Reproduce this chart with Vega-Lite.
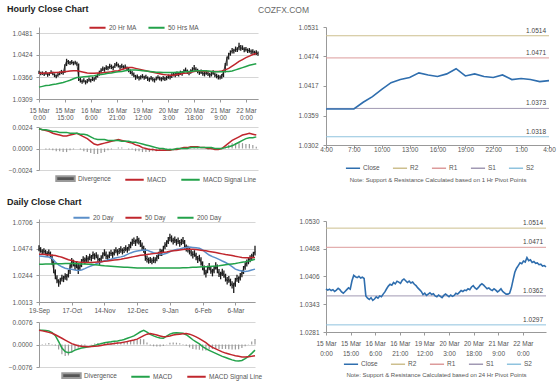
{
"$schema":"https://vega.github.io/schema/vega-lite/v6.json",
"background":"white",
"padding":{"left":7,"top":5,"right":4,"bottom":2},
"config":{"font":"Liberation Sans","view":{"stroke":null},
"axis":{"labelFont":"Liberation Sans","labelFontSize":6.5,"labelColor":"#555","domainColor":"#999","tickColor":"#999","tickSize":3,"labelPadding":4,"gridColor":"#c4c4c4","gridWidth":0.7,"labelOverlap":false,"labelFlush":false,"labelBound":false},
"legend":{"labelFont":"Liberation Sans","labelFontSize":6.5,"labelColor":"#555","padding":0,"labelOffset":2,"columnPadding":7},
"title":{"font":"Liberation Sans"},"text":{"font":"Liberation Sans"}},
"datasets":{
"hp":[{"i":0,"c":1.0378,"l":1.0374,"h":1.0383},{"i":1,"c":1.0375,"l":1.0371,"h":1.038},{"i":2,"c":1.0377,"l":1.0372,"h":1.0381},{"i":3,"c":1.0374,"l":1.0369,"h":1.0378},{"i":4,"c":1.0376,"l":1.0372,"h":1.0382},{"i":5,"c":1.0372,"l":1.0367,"h":1.0377},{"i":6,"c":1.0375,"l":1.037,"h":1.0379},{"i":7,"c":1.0379,"l":1.0374,"h":1.0384},{"i":8,"c":1.0376,"l":1.0371,"h":1.038},{"i":9,"c":1.0371,"l":1.0366,"h":1.0376},{"i":10,"c":1.0368,"l":1.0363,"h":1.0373},{"i":11,"c":1.0372,"l":1.0367,"h":1.0377},{"i":12,"c":1.0376,"l":1.0371,"h":1.0381},{"i":13,"c":1.038,"l":1.0374,"h":1.0385},{"i":14,"c":1.0377,"l":1.0372,"h":1.0383},{"i":15,"c":1.0396,"l":1.0377,"h":1.04},{"i":16,"c":1.0408,"l":1.0395,"h":1.0414},{"i":17,"c":1.0405,"l":1.04,"h":1.0411},{"i":18,"c":1.0403,"l":1.0398,"h":1.0408},{"i":19,"c":1.0406,"l":1.04,"h":1.0411},{"i":20,"c":1.0402,"l":1.0397,"h":1.0407},{"i":21,"c":1.0404,"l":1.0399,"h":1.0409},{"i":22,"c":1.0401,"l":1.0396,"h":1.0406},{"i":23,"c":1.0362,"l":1.0356,"h":1.0402},{"i":24,"c":1.0357,"l":1.0352,"h":1.0364},{"i":25,"c":1.0354,"l":1.0349,"h":1.036},{"i":26,"c":1.0358,"l":1.0352,"h":1.0363},{"i":27,"c":1.0352,"l":1.0347,"h":1.0358},{"i":28,"c":1.0355,"l":1.035,"h":1.0361},{"i":29,"c":1.036,"l":1.0354,"h":1.0365},{"i":30,"c":1.0357,"l":1.0352,"h":1.0362},{"i":31,"c":1.0362,"l":1.0356,"h":1.0367},{"i":32,"c":1.036,"l":1.0355,"h":1.0366},{"i":33,"c":1.0366,"l":1.0359,"h":1.0371},{"i":34,"c":1.0371,"l":1.0365,"h":1.0376},{"i":35,"c":1.0378,"l":1.037,"h":1.0383},{"i":36,"c":1.0384,"l":1.0377,"h":1.0389},{"i":37,"c":1.0388,"l":1.0382,"h":1.0394},{"i":38,"c":1.0386,"l":1.038,"h":1.0392},{"i":39,"c":1.0392,"l":1.0385,"h":1.0397},{"i":40,"c":1.0389,"l":1.0384,"h":1.0395},{"i":41,"c":1.0395,"l":1.0388,"h":1.0401},{"i":42,"c":1.0393,"l":1.0387,"h":1.0399},{"i":43,"c":1.039,"l":1.0384,"h":1.0396},{"i":44,"c":1.0397,"l":1.039,"h":1.0403},{"i":45,"c":1.04,"l":1.0394,"h":1.0406},{"i":46,"c":1.0396,"l":1.0391,"h":1.0402},{"i":47,"c":1.0392,"l":1.0386,"h":1.0398},{"i":48,"c":1.0395,"l":1.0389,"h":1.0401},{"i":49,"c":1.0391,"l":1.0386,"h":1.0397},{"i":50,"c":1.0393,"l":1.0387,"h":1.0399},{"i":51,"c":1.0388,"l":1.0383,"h":1.0394},{"i":52,"c":1.0385,"l":1.0379,"h":1.0391},{"i":53,"c":1.038,"l":1.0374,"h":1.0386},{"i":54,"c":1.0376,"l":1.037,"h":1.0382},{"i":55,"c":1.0372,"l":1.0366,"h":1.0378},{"i":56,"c":1.0365,"l":1.0359,"h":1.0372},{"i":57,"c":1.0368,"l":1.0362,"h":1.0373},{"i":58,"c":1.0363,"l":1.0357,"h":1.0369},{"i":59,"c":1.0366,"l":1.036,"h":1.0371},{"i":60,"c":1.0369,"l":1.0363,"h":1.0374},{"i":61,"c":1.0365,"l":1.0359,"h":1.037},{"i":62,"c":1.0367,"l":1.0361,"h":1.0372},{"i":63,"c":1.0362,"l":1.0356,"h":1.0368},{"i":64,"c":1.036,"l":1.0354,"h":1.0365},{"i":65,"c":1.0364,"l":1.0358,"h":1.0369},{"i":66,"c":1.0361,"l":1.0355,"h":1.0366},{"i":67,"c":1.0358,"l":1.0352,"h":1.0363},{"i":68,"c":1.0363,"l":1.0357,"h":1.0368},{"i":69,"c":1.0366,"l":1.036,"h":1.0371},{"i":70,"c":1.0363,"l":1.0357,"h":1.0368},{"i":71,"c":1.036,"l":1.0355,"h":1.0366},{"i":72,"c":1.0364,"l":1.0358,"h":1.0369},{"i":73,"c":1.0361,"l":1.0356,"h":1.0367},{"i":74,"c":1.0363,"l":1.0358,"h":1.0369},{"i":75,"c":1.0368,"l":1.0362,"h":1.0373},{"i":76,"c":1.0366,"l":1.036,"h":1.0372},{"i":77,"c":1.037,"l":1.0364,"h":1.0376},{"i":78,"c":1.0374,"l":1.0368,"h":1.0379},{"i":79,"c":1.0372,"l":1.0366,"h":1.0378},{"i":80,"c":1.0375,"l":1.0369,"h":1.0381},{"i":81,"c":1.0374,"l":1.0368,"h":1.0379},{"i":82,"c":1.0378,"l":1.0372,"h":1.0383},{"i":83,"c":1.0376,"l":1.037,"h":1.0382},{"i":84,"c":1.0382,"l":1.0375,"h":1.0387},{"i":85,"c":1.0385,"l":1.0379,"h":1.0391},{"i":86,"c":1.038,"l":1.0374,"h":1.0386},{"i":87,"c":1.0377,"l":1.0371,"h":1.0383},{"i":88,"c":1.0381,"l":1.0375,"h":1.0387},{"i":89,"c":1.0386,"l":1.0379,"h":1.0392},{"i":90,"c":1.0389,"l":1.0383,"h":1.0398},{"i":91,"c":1.0386,"l":1.038,"h":1.0392},{"i":92,"c":1.0382,"l":1.0376,"h":1.0388},{"i":93,"c":1.0378,"l":1.0372,"h":1.0384},{"i":94,"c":1.038,"l":1.0374,"h":1.0386},{"i":95,"c":1.0376,"l":1.037,"h":1.0382},{"i":96,"c":1.0374,"l":1.0368,"h":1.038},{"i":97,"c":1.0378,"l":1.0372,"h":1.0384},{"i":98,"c":1.0375,"l":1.0369,"h":1.0381},{"i":99,"c":1.0371,"l":1.0365,"h":1.0377},{"i":100,"c":1.0374,"l":1.0368,"h":1.038},{"i":101,"c":1.0378,"l":1.0372,"h":1.0384},{"i":102,"c":1.0372,"l":1.0366,"h":1.0378},{"i":103,"c":1.0369,"l":1.0363,"h":1.0375},{"i":104,"c":1.0366,"l":1.036,"h":1.0372},{"i":105,"c":1.0366,"l":1.036,"h":1.0371},{"i":106,"c":1.0368,"l":1.0362,"h":1.0374},{"i":107,"c":1.038,"l":1.0366,"h":1.0385},{"i":108,"c":1.0398,"l":1.0378,"h":1.0403},{"i":109,"c":1.0415,"l":1.0396,"h":1.042},{"i":110,"c":1.0424,"l":1.0412,"h":1.043},{"i":111,"c":1.043,"l":1.0422,"h":1.0436},{"i":112,"c":1.0436,"l":1.0428,"h":1.0442},{"i":113,"c":1.0434,"l":1.0428,"h":1.044},{"i":114,"c":1.044,"l":1.0432,"h":1.0446},{"i":115,"c":1.0438,"l":1.0432,"h":1.0444},{"i":116,"c":1.0448,"l":1.0436,"h":1.0456},{"i":117,"c":1.0441,"l":1.0435,"h":1.045},{"i":118,"c":1.0443,"l":1.0437,"h":1.0449},{"i":119,"c":1.0437,"l":1.0431,"h":1.0444},{"i":120,"c":1.0439,"l":1.0433,"h":1.0445},{"i":121,"c":1.0435,"l":1.0429,"h":1.0441},{"i":122,"c":1.0436,"l":1.043,"h":1.0442},{"i":123,"c":1.0432,"l":1.0426,"h":1.0438},{"i":124,"c":1.0433,"l":1.0427,"h":1.0439},{"i":125,"c":1.0429,"l":1.0424,"h":1.0435},{"i":126,"c":1.043,"l":1.0424,"h":1.0436},{"i":127,"c":1.0427,"l":1.0422,"h":1.0433}],
"hm":[{"i":0,"a":1.0376,"b":1.034,"m":0.0022,"s":0.0022,"d":0},{"i":2,"a":1.0376,"b":1.0342,"m":0.0021,"s":0.0021,"d":0},{"i":4,"a":1.0377,"b":1.0344,"m":0.002,"s":0.0021,"d":-0.0001},{"i":6,"a":1.0377,"b":1.0345,"m":0.0019,"s":0.002,"d":-0.0001},{"i":8,"a":1.0378,"b":1.0347,"m":0.0017,"s":0.0019,"d":-0.0002},{"i":10,"a":1.0378,"b":1.0348,"m":0.0016,"s":0.0019,"d":-0.0003},{"i":12,"a":1.0379,"b":1.035,"m":0.0015,"s":0.0018,"d":-0.0003},{"i":14,"a":1.038,"b":1.0352,"m":0.0014,"s":0.0018,"d":-0.0004},{"i":16,"a":1.0381,"b":1.0355,"m":0.0014,"s":0.0018,"d":-0.0004},{"i":18,"a":1.0382,"b":1.0358,"m":0.0015,"s":0.0017,"d":-0.0002},{"i":20,"a":1.0383,"b":1.0362,"m":0.0016,"s":0.0017,"d":-0.0001},{"i":22,"a":1.0383,"b":1.0365,"m":0.0017,"s":0.0017,"d":0},{"i":24,"a":1.0381,"b":1.0366,"m":0.0015,"s":0.0016,"d":-0.0001},{"i":26,"a":1.0379,"b":1.0367,"m":0.0013,"s":0.0016,"d":-0.0003},{"i":28,"a":1.0377,"b":1.0368,"m":0.0011,"s":0.0015,"d":-0.0004},{"i":30,"a":1.0376,"b":1.0369,"m":0.0008,"s":0.0013,"d":-0.0005},{"i":32,"a":1.0376,"b":1.037,"m":0.0005,"s":0.0011,"d":-0.0006},{"i":34,"a":1.0377,"b":1.0372,"m":0.0004,"s":0.001,"d":-0.0006},{"i":36,"a":1.0377,"b":1.0373,"m":0.0005,"s":0.001,"d":-0.0005},{"i":38,"a":1.0378,"b":1.0374,"m":0.0006,"s":0.001,"d":-0.0004},{"i":40,"a":1.0379,"b":1.0376,"m":0.0007,"s":0.0009,"d":-0.0002},{"i":42,"a":1.038,"b":1.0377,"m":0.0008,"s":0.0009,"d":-0.0001},{"i":44,"a":1.0382,"b":1.0379,"m":0.0009,"s":0.0009,"d":0},{"i":46,"a":1.0383,"b":1.038,"m":0.001,"s":0.0009,"d":0.0001},{"i":48,"a":1.0386,"b":1.0381,"m":0.0009,"s":0.0008,"d":0.0001},{"i":50,"a":1.0389,"b":1.0383,"m":0.0008,"s":0.0008,"d":0},{"i":52,"a":1.0391,"b":1.0384,"m":0.0007,"s":0.0008,"d":-0.0001},{"i":54,"a":1.0391,"b":1.0385,"m":0.0006,"s":0.0007,"d":-0.0001},{"i":56,"a":1.0389,"b":1.0385,"m":0.0004,"s":0.0007,"d":-0.0003},{"i":58,"a":1.0387,"b":1.0384,"m":0.0003,"s":0.0006,"d":-0.0003},{"i":60,"a":1.0385,"b":1.0383,"m":0.0001,"s":0.0005,"d":-0.0004},{"i":62,"a":1.0383,"b":1.0382,"m":0,"s":0.0004,"d":-0.0004},{"i":64,"a":1.0381,"b":1.0381,"m":-0.0001,"s":0.0003,"d":-0.0004},{"i":66,"a":1.0379,"b":1.038,"m":-0.0001,"s":0.0002,"d":-0.0003},{"i":68,"a":1.0377,"b":1.0379,"m":-0.0002,"s":0.0001,"d":-0.0003},{"i":70,"a":1.0375,"b":1.0379,"m":-0.0002,"s":0,"d":-0.0002},{"i":72,"a":1.0373,"b":1.0378,"m":-0.0002,"s":0,"d":-0.0002},{"i":74,"a":1.0372,"b":1.0378,"m":-0.0002,"s":-0.0001,"d":-0.0001},{"i":76,"a":1.0371,"b":1.0378,"m":-0.0002,"s":-0.0001,"d":-0.0001},{"i":78,"a":1.0371,"b":1.0378,"m":-0.0001,"s":-0.0001,"d":0},{"i":80,"a":1.0373,"b":1.0379,"m":-0.0001,"s":0,"d":-0.0001},{"i":82,"a":1.0374,"b":1.0379,"m":0,"s":0,"d":0},{"i":84,"a":1.0376,"b":1.038,"m":0.0001,"s":0,"d":0.0001},{"i":86,"a":1.0377,"b":1.038,"m":0.0001,"s":0,"d":0.0001},{"i":88,"a":1.0379,"b":1.0381,"m":0.0002,"s":0.0001,"d":0.0001},{"i":90,"a":1.0381,"b":1.0382,"m":0.0002,"s":0.0001,"d":0.0001},{"i":92,"a":1.0382,"b":1.0383,"m":0.0002,"s":0.0001,"d":0.0001},{"i":94,"a":1.0382,"b":1.0383,"m":0.0001,"s":0.0001,"d":0},{"i":96,"a":1.0381,"b":1.0383,"m":0.0001,"s":0.0001,"d":0},{"i":98,"a":1.0381,"b":1.0382,"m":0,"s":0.0001,"d":-0.0001},{"i":100,"a":1.0381,"b":1.0381,"m":0,"s":0.0001,"d":-0.0001},{"i":102,"a":1.0381,"b":1.038,"m":-0.0001,"s":0,"d":-0.0001},{"i":104,"a":1.0381,"b":1.038,"m":-0.0001,"s":0,"d":-0.0001},{"i":106,"a":1.0382,"b":1.038,"m":0,"s":0,"d":0},{"i":108,"a":1.0385,"b":1.0381,"m":0.0003,"s":0.0001,"d":0.0002},{"i":110,"a":1.0389,"b":1.0381,"m":0.0006,"s":0.0002,"d":0.0004},{"i":112,"a":1.0395,"b":1.0382,"m":0.0009,"s":0.0003,"d":0.0006},{"i":114,"a":1.0401,"b":1.0385,"m":0.0011,"s":0.0005,"d":0.0006},{"i":116,"a":1.0407,"b":1.0388,"m":0.0013,"s":0.0007,"d":0.0006},{"i":118,"a":1.0412,"b":1.0391,"m":0.0015,"s":0.0009,"d":0.0006},{"i":120,"a":1.0417,"b":1.0394,"m":0.0016,"s":0.0011,"d":0.0005},{"i":122,"a":1.0421,"b":1.0397,"m":0.0017,"s":0.0012,"d":0.0005},{"i":124,"a":1.0425,"b":1.0399,"m":0.0016,"s":0.0012,"d":0.0004},{"i":126,"a":1.0428,"b":1.0401,"m":0.0015,"s":0.0013,"d":0.0002}],
"dp":[{"i":0,"c":1.048,"l":1.0452,"h":1.0505},{"i":1,"c":1.0462,"l":1.044,"h":1.0488},{"i":2,"c":1.0445,"l":1.0425,"h":1.047},{"i":3,"c":1.0458,"l":1.0432,"h":1.0478},{"i":4,"c":1.044,"l":1.0418,"h":1.0465},{"i":5,"c":1.0428,"l":1.0405,"h":1.0452},{"i":6,"c":1.0445,"l":1.042,"h":1.0468},{"i":7,"c":1.042,"l":1.0392,"h":1.045},{"i":8,"c":1.0365,"l":1.0335,"h":1.0425},{"i":9,"c":1.029,"l":1.0262,"h":1.037},{"i":10,"c":1.024,"l":1.021,"h":1.0295},{"i":11,"c":1.0205,"l":1.0175,"h":1.0245},{"i":12,"c":1.0178,"l":1.0145,"h":1.021},{"i":13,"c":1.0195,"l":1.0165,"h":1.0222},{"i":14,"c":1.0225,"l":1.019,"h":1.0248},{"i":15,"c":1.021,"l":1.0185,"h":1.024},{"i":16,"c":1.024,"l":1.0205,"h":1.0262},{"i":17,"c":1.0228,"l":1.02,"h":1.0255},{"i":18,"c":1.0262,"l":1.0225,"h":1.029},{"i":19,"c":1.0315,"l":1.0255,"h":1.034},{"i":20,"c":1.037,"l":1.031,"h":1.0395},{"i":21,"c":1.035,"l":1.0322,"h":1.038},{"i":22,"c":1.032,"l":1.029,"h":1.0358},{"i":23,"c":1.034,"l":1.0305,"h":1.0365},{"i":24,"c":1.029,"l":1.0255,"h":1.0345},{"i":25,"c":1.0318,"l":1.0285,"h":1.034},{"i":26,"c":1.036,"l":1.0315,"h":1.0385},{"i":27,"c":1.0385,"l":1.035,"h":1.041},{"i":28,"c":1.0365,"l":1.034,"h":1.0398},{"i":29,"c":1.0398,"l":1.036,"h":1.042},{"i":30,"c":1.038,"l":1.0355,"h":1.041},{"i":31,"c":1.041,"l":1.0375,"h":1.0432},{"i":32,"c":1.0392,"l":1.0365,"h":1.042},{"i":33,"c":1.0428,"l":1.0385,"h":1.045},{"i":34,"c":1.0405,"l":1.038,"h":1.0435},{"i":35,"c":1.042,"l":1.0392,"h":1.0445},{"i":36,"c":1.0386,"l":1.036,"h":1.0425},{"i":37,"c":1.037,"l":1.0335,"h":1.0395},{"i":38,"c":1.0395,"l":1.0362,"h":1.0418},{"i":39,"c":1.042,"l":1.0388,"h":1.0445},{"i":40,"c":1.0445,"l":1.041,"h":1.047},{"i":41,"c":1.041,"l":1.0385,"h":1.045},{"i":42,"c":1.0398,"l":1.037,"h":1.0425},{"i":43,"c":1.0425,"l":1.0392,"h":1.045},{"i":44,"c":1.044,"l":1.0412,"h":1.0465},{"i":45,"c":1.0418,"l":1.0395,"h":1.0448},{"i":46,"c":1.0447,"l":1.0415,"h":1.047},{"i":47,"c":1.0462,"l":1.0435,"h":1.0488},{"i":48,"c":1.044,"l":1.0415,"h":1.047},{"i":49,"c":1.0455,"l":1.0428,"h":1.048},{"i":50,"c":1.047,"l":1.044,"h":1.0495},{"i":51,"c":1.045,"l":1.0425,"h":1.0478},{"i":52,"c":1.0465,"l":1.0438,"h":1.049},{"i":53,"c":1.048,"l":1.0452,"h":1.0505},{"i":54,"c":1.0462,"l":1.044,"h":1.049},{"i":55,"c":1.049,"l":1.0458,"h":1.0515},{"i":56,"c":1.051,"l":1.0478,"h":1.0535},{"i":57,"c":1.0535,"l":1.05,"h":1.056},{"i":58,"c":1.0545,"l":1.0515,"h":1.0572},{"i":59,"c":1.0525,"l":1.0498,"h":1.0555},{"i":60,"c":1.056,"l":1.052,"h":1.0585},{"i":61,"c":1.054,"l":1.0512,"h":1.057},{"i":62,"c":1.052,"l":1.049,"h":1.055},{"i":63,"c":1.049,"l":1.046,"h":1.0528},{"i":64,"c":1.047,"l":1.044,"h":1.05},{"i":65,"c":1.04,"l":1.037,"h":1.0478},{"i":66,"c":1.0385,"l":1.0355,"h":1.0415},{"i":67,"c":1.037,"l":1.0345,"h":1.0398},{"i":68,"c":1.0378,"l":1.035,"h":1.0402},{"i":69,"c":1.0365,"l":1.034,"h":1.0392},{"i":70,"c":1.038,"l":1.0352,"h":1.0405},{"i":71,"c":1.0372,"l":1.0348,"h":1.04},{"i":72,"c":1.0395,"l":1.0365,"h":1.042},{"i":73,"c":1.042,"l":1.0385,"h":1.0448},{"i":74,"c":1.045,"l":1.0412,"h":1.0475},{"i":75,"c":1.044,"l":1.0412,"h":1.0468},{"i":76,"c":1.0475,"l":1.0438,"h":1.05},{"i":77,"c":1.0505,"l":1.047,"h":1.053},{"i":78,"c":1.052,"l":1.049,"h":1.0548},{"i":79,"c":1.055,"l":1.0515,"h":1.0575},{"i":80,"c":1.0575,"l":1.054,"h":1.0605},{"i":81,"c":1.056,"l":1.053,"h":1.059},{"i":82,"c":1.054,"l":1.0512,"h":1.057},{"i":83,"c":1.0555,"l":1.0525,"h":1.058},{"i":84,"c":1.053,"l":1.0502,"h":1.056},{"i":85,"c":1.0545,"l":1.0515,"h":1.0572},{"i":86,"c":1.052,"l":1.0492,"h":1.055},{"i":87,"c":1.0535,"l":1.0505,"h":1.056},{"i":88,"c":1.0545,"l":1.0515,"h":1.0575},{"i":89,"c":1.0505,"l":1.0475,"h":1.055},{"i":90,"c":1.048,"l":1.045,"h":1.0512},{"i":91,"c":1.047,"l":1.0442,"h":1.05},{"i":92,"c":1.0455,"l":1.0425,"h":1.0485},{"i":93,"c":1.044,"l":1.041,"h":1.047},{"i":94,"c":1.042,"l":1.039,"h":1.0452},{"i":95,"c":1.0435,"l":1.0405,"h":1.0462},{"i":96,"c":1.0405,"l":1.0375,"h":1.044},{"i":97,"c":1.038,"l":1.035,"h":1.0412},{"i":98,"c":1.0395,"l":1.0365,"h":1.0422},{"i":99,"c":1.036,"l":1.033,"h":1.04},{"i":100,"c":1.032,"l":1.0288,"h":1.0365},{"i":101,"c":1.028,"l":1.0248,"h":1.033},{"i":102,"c":1.0255,"l":1.0225,"h":1.0292},{"i":103,"c":1.03,"l":1.0262,"h":1.0328},{"i":104,"c":1.032,"l":1.0288,"h":1.035},{"i":105,"c":1.029,"l":1.0258,"h":1.0325},{"i":106,"c":1.0265,"l":1.0235,"h":1.03},{"i":107,"c":1.03,"l":1.0262,"h":1.0328},{"i":108,"c":1.033,"l":1.0295,"h":1.0358},{"i":109,"c":1.029,"l":1.0262,"h":1.0338},{"i":110,"c":1.026,"l":1.023,"h":1.0298},{"i":111,"c":1.024,"l":1.021,"h":1.0275},{"i":112,"c":1.0275,"l":1.0238,"h":1.03},{"i":113,"c":1.025,"l":1.0222,"h":1.0285},{"i":114,"c":1.022,"l":1.019,"h":1.0258},{"i":115,"c":1.0195,"l":1.0165,"h":1.023},{"i":116,"c":1.021,"l":1.018,"h":1.0238},{"i":117,"c":1.018,"l":1.015,"h":1.0215},{"i":118,"c":1.016,"l":1.013,"h":1.0192},{"i":119,"c":1.015,"l":1.009,"h":1.018},{"i":120,"c":1.0195,"l":1.0145,"h":1.0222},{"i":121,"c":1.022,"l":1.0188,"h":1.0248},{"i":122,"c":1.0205,"l":1.0178,"h":1.0235},{"i":123,"c":1.024,"l":1.02,"h":1.0265},{"i":124,"c":1.026,"l":1.0228,"h":1.029},{"i":125,"c":1.03,"l":1.0255,"h":1.0325},{"i":126,"c":1.033,"l":1.0292,"h":1.0358},{"i":127,"c":1.0355,"l":1.032,"h":1.0382},{"i":128,"c":1.037,"l":1.034,"h":1.0398},{"i":129,"c":1.039,"l":1.0358,"h":1.0418},{"i":130,"c":1.0405,"l":1.0375,"h":1.0432},{"i":131,"c":1.042,"l":1.0392,"h":1.0448},{"i":132,"c":1.045,"l":1.0415,"h":1.05}],
"dm":[{"i":0,"a":1.0412,"b":1.0427,"g":1.0341,"m":0.0048,"s":0.0048,"d":0},{"i":2,"a":1.041,"b":1.0426,"g":1.0341,"m":0.0048,"s":0.0046,"d":0.0002},{"i":4,"a":1.0406,"b":1.0424,"g":1.0342,"m":0.0047,"s":0.0044,"d":0.0003},{"i":6,"a":1.0402,"b":1.0421,"g":1.0342,"m":0.0046,"s":0.0041,"d":0.0005},{"i":8,"a":1.039,"b":1.0418,"g":1.0343,"m":0.004,"s":0.0038,"d":0.0002},{"i":10,"a":1.036,"b":1.0415,"g":1.0344,"m":0.003,"s":0.0033,"d":-0.0003},{"i":12,"a":1.0335,"b":1.0408,"g":1.0344,"m":0.001,"s":0.0027,"d":-0.0017},{"i":14,"a":1.0318,"b":1.04,"g":1.0345,"m":-0.0012,"s":0.0021,"d":-0.0033},{"i":16,"a":1.0306,"b":1.039,"g":1.0346,"m":-0.0024,"s":0.0015,"d":-0.0039},{"i":18,"a":1.0299,"b":1.0379,"g":1.0347,"m":-0.0028,"s":0.0009,"d":-0.0037},{"i":20,"a":1.0296,"b":1.0372,"g":1.0347,"m":-0.0025,"s":0.0003,"d":-0.0028},{"i":22,"a":1.029,"b":1.0365,"g":1.0346,"m":-0.0019,"s":-0.0001,"d":-0.0018},{"i":24,"a":1.0285,"b":1.036,"g":1.0345,"m":-0.0015,"s":-0.0004,"d":-0.0011},{"i":26,"a":1.029,"b":1.0357,"g":1.0343,"m":-0.0012,"s":-0.0006,"d":-0.0006},{"i":28,"a":1.0302,"b":1.0356,"g":1.0342,"m":-0.001,"s":-0.0007,"d":-0.0003},{"i":30,"a":1.0315,"b":1.0355,"g":1.0341,"m":-0.0008,"s":-0.0008,"d":0},{"i":32,"a":1.0327,"b":1.0356,"g":1.0339,"m":-0.0006,"s":-0.0007,"d":0.0001},{"i":34,"a":1.0338,"b":1.0358,"g":1.0336,"m":-0.0003,"s":-0.0006,"d":0.0003},{"i":36,"a":1.035,"b":1.036,"g":1.0333,"m":0,"s":-0.0005,"d":0.0005},{"i":38,"a":1.036,"b":1.0362,"g":1.033,"m":0.0003,"s":-0.0003,"d":0.0006},{"i":40,"a":1.037,"b":1.0365,"g":1.0327,"m":0.0006,"s":-0.0001,"d":0.0007},{"i":42,"a":1.0377,"b":1.0368,"g":1.0325,"m":0.0008,"s":0.0001,"d":0.0007},{"i":44,"a":1.0384,"b":1.0372,"g":1.0323,"m":0.0009,"s":0.0002,"d":0.0007},{"i":46,"a":1.0392,"b":1.0376,"g":1.0321,"m":0.0011,"s":0.0003,"d":0.0008},{"i":48,"a":1.0398,"b":1.038,"g":1.0319,"m":0.0012,"s":0.0005,"d":0.0007},{"i":50,"a":1.0404,"b":1.0384,"g":1.0317,"m":0.0014,"s":0.0006,"d":0.0008},{"i":52,"a":1.0412,"b":1.0389,"g":1.0315,"m":0.0017,"s":0.0008,"d":0.0009},{"i":54,"a":1.0425,"b":1.0395,"g":1.0313,"m":0.0021,"s":0.001,"d":0.0011},{"i":56,"a":1.0438,"b":1.04,"g":1.0311,"m":0.0025,"s":0.0013,"d":0.0012},{"i":58,"a":1.0448,"b":1.0406,"g":1.0309,"m":0.0029,"s":0.0015,"d":0.0014},{"i":60,"a":1.0455,"b":1.0412,"g":1.0307,"m":0.0036,"s":0.0018,"d":0.0018},{"i":62,"a":1.046,"b":1.0417,"g":1.0307,"m":0.0043,"s":0.0024,"d":0.0019},{"i":64,"a":1.0464,"b":1.0421,"g":1.0307,"m":0.0048,"s":0.003,"d":0.0018},{"i":66,"a":1.0462,"b":1.0425,"g":1.0307,"m":0.0042,"s":0.0035,"d":0.0007},{"i":68,"a":1.045,"b":1.0428,"g":1.0307,"m":0.0034,"s":0.0037,"d":-0.0003},{"i":70,"a":1.044,"b":1.0432,"g":1.0307,"m":0.0029,"s":0.0035,"d":-0.0006},{"i":72,"a":1.0433,"b":1.0436,"g":1.0307,"m":0.0025,"s":0.0032,"d":-0.0007},{"i":74,"a":1.0429,"b":1.044,"g":1.0307,"m":0.0022,"s":0.0029,"d":-0.0007},{"i":76,"a":1.0427,"b":1.0443,"g":1.0307,"m":0.0021,"s":0.0026,"d":-0.0005},{"i":78,"a":1.0435,"b":1.0447,"g":1.0307,"m":0.0028,"s":0.0027,"d":0.0001},{"i":80,"a":1.0448,"b":1.0452,"g":1.0307,"m":0.0035,"s":0.0029,"d":0.0006},{"i":82,"a":1.046,"b":1.0456,"g":1.0307,"m":0.0039,"s":0.0032,"d":0.0007},{"i":84,"a":1.0467,"b":1.046,"g":1.0308,"m":0.004,"s":0.0034,"d":0.0006},{"i":86,"a":1.0473,"b":1.0464,"g":1.0308,"m":0.0039,"s":0.0035,"d":0.0004},{"i":88,"a":1.048,"b":1.0468,"g":1.0309,"m":0.0038,"s":0.0036,"d":0.0002},{"i":90,"a":1.0486,"b":1.0469,"g":1.031,"m":0.0033,"s":0.0037,"d":-0.0004},{"i":92,"a":1.0489,"b":1.0469,"g":1.0311,"m":0.0025,"s":0.0035,"d":-0.001},{"i":94,"a":1.0486,"b":1.0469,"g":1.0313,"m":0.0016,"s":0.0031,"d":-0.0015},{"i":96,"a":1.0482,"b":1.0468,"g":1.0315,"m":0.0009,"s":0.0026,"d":-0.0017},{"i":98,"a":1.0478,"b":1.0464,"g":1.0317,"m":0.0002,"s":0.002,"d":-0.0018},{"i":100,"a":1.0465,"b":1.046,"g":1.0318,"m":-0.0007,"s":0.0013,"d":-0.002},{"i":102,"a":1.044,"b":1.0456,"g":1.0319,"m":-0.0014,"s":0.0006,"d":-0.002},{"i":104,"a":1.042,"b":1.0451,"g":1.032,"m":-0.002,"s":-0.0003,"d":-0.0017},{"i":106,"a":1.0406,"b":1.0446,"g":1.0322,"m":-0.0025,"s":-0.001,"d":-0.0015},{"i":108,"a":1.0395,"b":1.0441,"g":1.0324,"m":-0.003,"s":-0.0015,"d":-0.0015},{"i":110,"a":1.0382,"b":1.0436,"g":1.0327,"m":-0.0035,"s":-0.002,"d":-0.0015},{"i":112,"a":1.0368,"b":1.043,"g":1.0331,"m":-0.004,"s":-0.0025,"d":-0.0015},{"i":114,"a":1.0355,"b":1.0424,"g":1.0335,"m":-0.0044,"s":-0.0029,"d":-0.0015},{"i":116,"a":1.0338,"b":1.0421,"g":1.0339,"m":-0.0048,"s":-0.0032,"d":-0.0016},{"i":118,"a":1.032,"b":1.0415,"g":1.0343,"m":-0.0052,"s":-0.0035,"d":-0.0017},{"i":120,"a":1.0298,"b":1.0409,"g":1.0347,"m":-0.0055,"s":-0.0038,"d":-0.0017},{"i":122,"a":1.0288,"b":1.0404,"g":1.0352,"m":-0.0056,"s":-0.004,"d":-0.0016},{"i":124,"a":1.0282,"b":1.0398,"g":1.0357,"m":-0.0054,"s":-0.0042,"d":-0.0012},{"i":126,"a":1.0278,"b":1.0397,"g":1.0361,"m":-0.0048,"s":-0.0042,"d":-0.0006},{"i":128,"a":1.0282,"b":1.0397,"g":1.0367,"m":-0.004,"s":-0.0041,"d":0.0001},{"i":130,"a":1.029,"b":1.0398,"g":1.0375,"m":-0.003,"s":-0.004,"d":0.001},{"i":132,"a":1.0298,"b":1.0398,"g":1.0384,"m":-0.0019,"s":-0.0038,"d":0.0019}],
"h1":[{"h":0,"c":1.0372},{"h":1,"c":1.0372},{"h":2,"c":1.0372},{"h":3,"c":1.0372},{"h":4,"c":1.0385},{"h":5,"c":1.0396},{"h":6,"c":1.041},{"h":7,"c":1.0423},{"h":8,"c":1.0429},{"h":9,"c":1.0433},{"h":10,"c":1.0442},{"h":11,"c":1.0438},{"h":12,"c":1.0435},{"h":13,"c":1.044},{"h":14,"c":1.045},{"h":15,"c":1.0436},{"h":16,"c":1.044},{"h":17,"c":1.0435},{"h":18,"c":1.0433},{"h":19,"c":1.0438},{"h":20,"c":1.0429},{"h":21,"c":1.0431},{"h":22,"c":1.0429},{"h":23,"c":1.0425},{"h":24,"c":1.0427}],
"pv1":[{"n":"R2","v":1.0514},{"n":"R1","v":1.0471},{"n":"S1","v":1.0373},{"n":"S2","v":1.0318}],
"pv2":[{"n":"R2","v":1.0514},{"n":"R1","v":1.0471},{"n":"S1","v":1.0362},{"n":"S2","v":1.0297}]
},
"spacing":-5,
"resolve":{"scale":{"color":"independent","x":"independent","y":"independent"}},
"hconcat":[
{"spacing":13,"resolve":{"scale":{"color":"independent","x":"independent","y":"independent"}},
 "vconcat":[
 {"vconcat":[
  {"width":219,"height":72,
   "title":{"text":"Hourly Close Chart","anchor":"start","frame":"group","dx":-32,"offset":4,"fontSize":9,"fontWeight":"bold","color":"#222"},
   "layer":[
    {"data":{"name":"hp"},"mark":{"type":"rule","color":"#1a1a1a","strokeWidth":1.3},
     "encoding":{"x":{"field":"i","type":"quantitative","scale":{"domain":[0,127],"nice":false,"zero":false},
       "axis":{"values":[0,15,30,45,60,75,90,105,120],"tickCount":30,"labelExpr":"[['15 Mar','0:00'],['15 Mar','15:00'],['16 Mar','6:00'],['16 Mar','21:00'],['19 Mar','12:00'],['20 Mar','3:00'],['20 Mar','18:00'],['21 Mar','9:00'],['22 Mar','0:00']][round(datum.value/15)]","grid":false,"title":null,"labelLineHeight":7,"labelPadding":5}},
      "y":{"field":"l","type":"quantitative","scale":{"domain":[1.0309,1.0497],"nice":false,"zero":false},"axis":{"values":[1.0309,1.0366,1.0424,1.0481],"tickCount":30,"format":".4f","title":null}},
      "y2":{"field":"h"}}},
    {"data":{"name":"hp"},"mark":{"type":"line","color":"#1a1a1a","strokeWidth":0.8},"encoding":{"x":{"field":"i","type":"quantitative"},"y":{"field":"c","type":"quantitative"}}},
    {"data":{"name":"hm"},"mark":{"type":"line","strokeWidth":1.5},"encoding":{"x":{"field":"i","type":"quantitative"},"y":{"field":"a","type":"quantitative"},
      "color":{"datum":"20 Hr MA","scale":{"domain":["20 Hr MA","50 Hrs MA"],"range":["#c0262d","#23a24a"]},
       "legend":{"orient":"none","legendX":49,"legendY":-9,"direction":"horizontal","title":null,"symbolType":"stroke","symbolStrokeWidth":2,"symbolSize":260}}}},
    {"data":{"name":"hm"},"mark":{"type":"line","strokeWidth":1.5},"encoding":{"x":{"field":"i","type":"quantitative"},"y":{"field":"b","type":"quantitative"},"color":{"datum":"50 Hrs MA"}}}
   ]},
  {"width":219,"height":43,
   "layer":[
    {"data":{"name":"hm"},"mark":{"type":"rule","strokeWidth":1.2},
     "encoding":{"x":{"field":"i","type":"quantitative","scale":{"domain":[0,127],"nice":false,"zero":false},"axis":null},
      "y":{"field":"d","type":"quantitative","scale":{"domain":[-0.0024,0.0024],"nice":false},"axis":{"values":[-0.0024,0,0.0024],"tickCount":30,"format":".4f","title":null}},
      "y2":{"datum":0},
      "color":{"datum":"Divergence","scale":{"domain":["Divergence","MACD","MACD Signal Line"],"range":["#9a9a9a","#c0262d","#23a24a"]},
       "legend":{"orient":"none","legendX":16,"legendY":41,"direction":"horizontal","title":null,"symbolType":"stroke","symbolStrokeWidth":2,"symbolSize":340,"columnPadding":10,
        "encode":{"symbols":{"update":{"shape":{"signal":"datum.value === 'Divergence' ? 'M-1,-0.25H1V0.25H-1Z' : 'stroke'"},"fill":{"signal":"datum.value === 'Divergence' ? '#555555' : 'transparent'"}}}}}}}},
    {"data":{"name":"hm"},"mark":{"type":"line","strokeWidth":1.5},"encoding":{"x":{"field":"i","type":"quantitative"},"y":{"field":"m","type":"quantitative"},"color":{"datum":"MACD"}}},
    {"data":{"name":"hm"},"mark":{"type":"line","strokeWidth":1.5},"encoding":{"x":{"field":"i","type":"quantitative"},"y":{"field":"s","type":"quantitative"},"color":{"datum":"MACD Signal Line"}}}
   ]}
 ],"spacing":28,"bounds":"flush","resolve":{"scale":{"color":"independent","x":"independent","y":"independent"}}},
 {"vconcat":[
  {"width":216,"height":83,
   "title":{"text":"Daily Close Chart","anchor":"start","frame":"group","dx":-32,"offset":1,"fontSize":9,"fontWeight":"bold","color":"#222"},
   "layer":[
    {"data":{"name":"dp"},"mark":{"type":"rule","color":"#1a1a1a","strokeWidth":1.3},
     "encoding":{"x":{"field":"i","type":"quantitative","scale":{"domain":[0,132],"nice":false,"zero":false},
       "axis":{"values":[0,20,40,60,80,100,120],"tickCount":30,"labelExpr":"['19-Sep','17-Oct','14-Nov','12-Dec','9-Jan','6-Feb','6-Mar'][round(datum.value/20)]","grid":false,"title":null,"labelPadding":2}},
      "y":{"field":"l","type":"quantitative","scale":{"domain":[1.0013,1.0732],"nice":false,"zero":false},"axis":{"values":[1.0013,1.0244,1.0474,1.0706],"tickCount":30,"format":".4f","title":null}},
      "y2":{"field":"h"}}},
    {"data":{"name":"dp"},"mark":{"type":"line","color":"#1a1a1a","strokeWidth":0.8},"encoding":{"x":{"field":"i","type":"quantitative"},"y":{"field":"c","type":"quantitative"}}},
    {"data":{"name":"dm"},"mark":{"type":"line","strokeWidth":1.5},"encoding":{"x":{"field":"i","type":"quantitative"},"y":{"field":"a","type":"quantitative"},
      "color":{"datum":"20 Day","scale":{"domain":["20 Day","50 Day","200 Day"],"range":["#5b8fc9","#c0262d","#23a24a"]},
       "legend":{"orient":"none","legendX":33,"legendY":-11,"direction":"horizontal","title":null,"symbolType":"stroke","symbolStrokeWidth":2,"symbolSize":260}}}},
    {"data":{"name":"dm"},"mark":{"type":"line","strokeWidth":1.5},"encoding":{"x":{"field":"i","type":"quantitative"},"y":{"field":"b","type":"quantitative"},"color":{"datum":"50 Day"}}},
    {"data":{"name":"dm"},"mark":{"type":"line","strokeWidth":1.5},"encoding":{"x":{"field":"i","type":"quantitative"},"y":{"field":"g","type":"quantitative"},"color":{"datum":"200 Day"}}}
   ]},
  {"width":216,"height":45,
   "layer":[
    {"data":{"name":"dm"},"mark":{"type":"rule","strokeWidth":1.2},
     "encoding":{"x":{"field":"i","type":"quantitative","scale":{"domain":[0,132],"nice":false,"zero":false},"axis":null},
      "y":{"field":"d","type":"quantitative","scale":{"domain":[-0.0076,0.0076],"nice":false},"axis":{"values":[-0.0076,0,0.0076],"tickCount":30,"format":".4f","title":null}},
      "y2":{"datum":0},
      "color":{"datum":"Divergence","scale":{"domain":["Divergence","MACD","MACD Signal Line"],"range":["#9a9a9a","#23a24a","#c0262d"]},
       "legend":{"orient":"none","legendX":22,"legendY":43,"direction":"horizontal","title":null,"symbolType":"stroke","symbolStrokeWidth":2,"symbolSize":340,"columnPadding":10,
        "encode":{"symbols":{"update":{"shape":{"signal":"datum.value === 'Divergence' ? 'M-1,-0.25H1V0.25H-1Z' : 'stroke'"},"fill":{"signal":"datum.value === 'Divergence' ? '#555555' : 'transparent'"}}}}}}}},
    {"data":{"name":"dm"},"mark":{"type":"line","strokeWidth":1.5},"encoding":{"x":{"field":"i","type":"quantitative"},"y":{"field":"m","type":"quantitative"},"color":{"datum":"MACD"}}},
    {"data":{"name":"dm"},"mark":{"type":"line","strokeWidth":1.5},"encoding":{"x":{"field":"i","type":"quantitative"},"y":{"field":"s","type":"quantitative"},"color":{"datum":"MACD Signal Line"}}}
   ]}
 ],"spacing":20,"bounds":"flush","resolve":{"scale":{"color":"independent","x":"independent","y":"independent"}}}
]},
{"vconcat":[
 {"width":223,"height":118,
  "title":{"text":"COZFX.COM","anchor":"start","frame":"group","dx":-68,"offset":10,"fontSize":8.5,"fontWeight":"normal","color":"#6a6a6a"},
  "layer":[
   {"data":{"name":"pv1"},"mark":{"type":"rule","strokeWidth":1},
    "encoding":{"y":{"field":"v","type":"quantitative","scale":{"domain":[1.0302,1.0531],"nice":false,"zero":false},"axis":{"values":[1.0302,1.0359,1.0417,1.0474,1.0531],"tickCount":30,"format":".4f","grid":false,"title":null,"labelPadding":5}},
     "color":{"field":"n","type":"nominal","scale":{"domain":["Close","R2","R1","S1","S2"],"range":["#2f6eae","#cdbf8e","#dc9b9b","#a199b3","#8fc3de"]},
      "legend":{"orient":"none","legendX":19,"legendY":133,"direction":"horizontal","title":null,"symbolType":"stroke","symbolStrokeWidth":1.5,"symbolSize":200,"columnPadding":9}}}},
   {"data":{"name":"pv1"},"mark":{"type":"text","align":"right","baseline":"bottom","dy":-2,"dx":-3,"fontSize":6.5,"color":"#444"},
    "encoding":{"y":{"field":"v","type":"quantitative"},"x":{"datum":24},"text":{"field":"v","type":"quantitative","format":".4f"}}},
   {"data":{"name":"h1"},"mark":{"type":"line","strokeWidth":1.6},
    "encoding":{"x":{"field":"h","type":"quantitative","scale":{"domain":[0,24],"nice":false,"zero":false},
      "axis":{"values":[0,3,6,9,12,15,18,21,24],"tickCount":30,"labelExpr":"['4:00','7:00','10:00','13:00','16:00','19:00','22:00','1:00','4:00'][round(datum.value/3)]","grid":false,"labelPadding":-2,
       "title":"Note: Support & Resistance Calculated based on 1 Hr Pivot Points","titleFontSize":6,"titleFontWeight":"normal","titleColor":"#555","titlePadding":24}},
     "y":{"field":"c","type":"quantitative"},"color":{"datum":"Close"}}}
  ]},
 {"width":220,"height":111,
  "layer":[
   {"data":{"name":"pv2"},"mark":{"type":"rule","strokeWidth":1},
    "encoding":{"y":{"field":"v","type":"quantitative","scale":{"domain":[1.0281,1.053],"nice":false,"zero":false},"axis":{"values":[1.0281,1.0343,1.0406,1.0468,1.053],"tickCount":30,"format":".4f","grid":false,"title":null}},
     "color":{"field":"n","type":"nominal","scale":{"domain":["Close","R2","R1","S1","S2"],"range":["#2f6eae","#cdbf8e","#dc9b9b","#a199b3","#8fc3de"]},
      "legend":{"orient":"none","legendX":17,"legendY":135,"direction":"horizontal","title":null,"symbolType":"stroke","symbolStrokeWidth":1.5,"symbolSize":200,"columnPadding":9}}}},
   {"data":{"name":"pv2"},"mark":{"type":"text","align":"right","baseline":"bottom","dy":-2,"dx":-3,"fontSize":6.5,"color":"#444"},
    "encoding":{"y":{"field":"v","type":"quantitative"},"x":{"datum":127},"text":{"field":"v","type":"quantitative","format":".4f"}}},
   {"data":{"name":"hp"},"mark":{"type":"line","strokeWidth":1.6},
    "encoding":{"x":{"field":"i","type":"quantitative","scale":{"domain":[0,127],"nice":false,"zero":false},
      "axis":{"values":[0,14.2,28.4,42.6,56.8,71,85.2,99.4,113.6],"tickCount":30,"labelExpr":"[['15 Mar','0:00'],['15 Mar','15:00'],['16 Mar','6:00'],['16 Mar','21:00'],['19 Mar','12:00'],['20 Mar','3:00'],['20 Mar','18:00'],['21 Mar','9:00'],['22 Mar','0:00']][round(datum.value/14.2)]","grid":false,"labelPadding":5,"labelLineHeight":10,
       "title":"Note: Support & Resistance Calculated based on 24 Hr Pivot Points","titleFontSize":6,"titleFontWeight":"normal","titleColor":"#555","titlePadding":15}},
     "y":{"field":"c","type":"quantitative"},"color":{"datum":"Close"}}}
  ]}
],"spacing":76,"bounds":"flush","resolve":{"scale":{"color":"independent","x":"independent","y":"independent"}}}
]
}
